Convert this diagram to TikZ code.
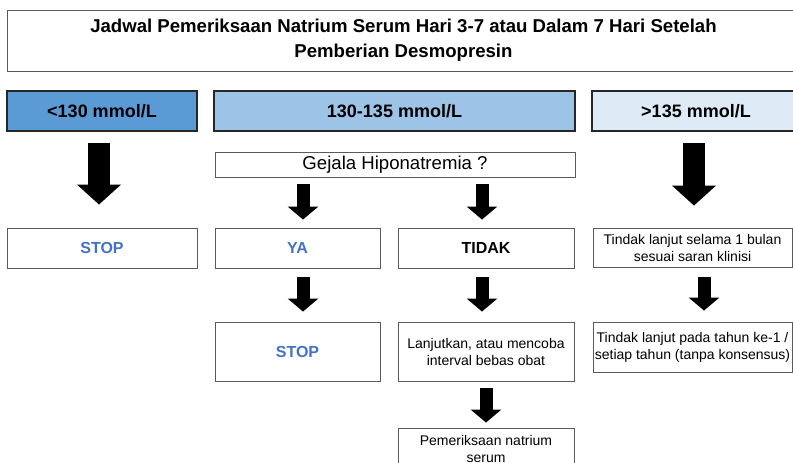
\documentclass[tikz,border=0pt]{standalone}
\usepackage{fontspec}
\setmainfont{Liberation Sans}
\usetikzlibrary{arrows.meta,calc}
\definecolor{blueA}{HTML}{5B9BD5}
\definecolor{blueB}{HTML}{9DC3E6}
\definecolor{blueC}{HTML}{DEEBF7}
\definecolor{txtblue}{HTML}{4472C4}
\definecolor{boxgray}{HTML}{5A5A5A}
\tikzset{
  box/.style={draw=boxgray, line width=0.9pt, fill=white, inner sep=0pt, align=center, font=\fontsize{14}{17}\selectfont},
  hdr/.style={draw=black!85, line width=1.6pt, inner sep=0pt, align=center, font=\bfseries\fontsize{18}{22}\selectfont, minimum height=40pt},
  bigarr/.style={line width=22pt, -{Triangle[length=20pt,width=43pt]}},
  smallarr/.style={line width=13pt, -{Triangle[length=13pt,width=30pt]}},
  bluebold/.style={font=\bfseries\fontsize{16}{19}\selectfont, text=txtblue},
}
\begin{document}
\begin{tikzpicture}[x=1pt,y=-1pt]
\clip (0,0) rectangle (793,463);
\fill[white] (0,0) rectangle (793,463);
% title
\node[box, minimum width=793pt, minimum height=61pt, font=\bfseries\fontsize{18.6}{25}\selectfont] (title) at (403.5,40.5)
  {Jadwal Pemeriksaan Natrium Serum Hari 3-7 atau Dalam 7 Hari Setelah\\Pemberian Desmopresin};
% headers
\node[hdr, fill=blueA, minimum width=190pt] (lo) at (102,111) {<130 mmol/L};
\node[hdr, fill=blueB, minimum width=361pt] (mid) at (394.5,111) {130-135 mmol/L};
\node[hdr, fill=blueC, minimum width=208pt] (hi) at (696,111) {>135 mmol/L};
% question
\node[box, minimum width=360pt, minimum height=25pt, font=\fontsize{18.6}{20}\selectfont] (gej) at (395,164.5) {Gejala Hiponatremia ?};
% row 1
\node[box, minimum width=190pt, minimum height=40pt, bluebold] (stopA) at (102,248) {STOP};
\node[box, minimum width=165pt, minimum height=40pt, bluebold] (ya) at (297.5,248) {YA};
\node[box, minimum width=176pt, minimum height=40pt, font=\bfseries\fontsize{16}{19}\selectfont] (tidak) at (486,248) {TIDAK};
\node[box, minimum width=199pt, minimum height=39pt] (tA) at (692.5,247.5) {Tindak lanjut selama 1 bulan\\sesuai saran klinisi};
% row 2
\node[box, minimum width=165pt, minimum height=59pt, bluebold] (stopB) at (297.5,351.5) {STOP};
\node[box, minimum width=176pt, minimum height=59pt] (lanj) at (486,351.5) {Lanjutkan, atau mencoba\\interval bebas obat};
\node[box, minimum width=199pt, minimum height=50pt] (tB) at (692.5,347) {Tindak lanjut pada tahun ke-1 /\\setiap tahun (tanpa konsensus)};
% row 3
\node[box, minimum width=176pt, minimum height=42pt] (pem) at (486,449) {Pemeriksaan natrium\\serum};
% arrows
\draw[bigarr, shorten <=11pt, shorten >=23pt] ($(lo.south)+(-3,0)$) -- ($(stopA.north)+(-3,0)$);
\draw[bigarr, shorten <=11pt, shorten >=22pt] ($(hi.south)+(-2,0)$) -- ($(tA.north -| hi.south)+(-2,0)$);
\draw[smallarr, shorten <=7pt, shorten >=8pt] ($(gej.south -| ya.north)+(5.5,0)$) -- ($(ya.north)+(5.5,0)$);
\draw[smallarr, shorten <=7pt, shorten >=8pt] ($(gej.south -| tidak.north)+(-4,0)$) -- ($(tidak.north)+(-4,0)$);
\draw[smallarr, shorten <=9pt, shorten >=10pt] ($(ya.south)+(5.5,0)$) -- ($(stopB.north)+(5.5,0)$);
\draw[smallarr, shorten <=9pt, shorten >=10pt] ($(tidak.south)+(-4,0)$) -- ($(lanj.north)+(-4,0)$);
\draw[smallarr, shorten <=10pt, shorten >=11pt] ($(tA.south)+(11.5,0)$) -- ($(tB.north)+(11.5,0)$);
\draw[smallarr, shorten <=7pt, shorten >=5pt] (lanj.south) -- (pem.north);
\end{tikzpicture}
\end{document}
